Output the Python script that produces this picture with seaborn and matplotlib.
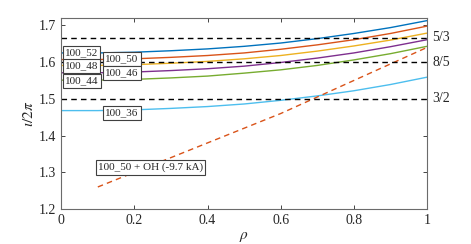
import numpy as np
import pandas as pd
import seaborn as sns
import matplotlib.pyplot as plt

rho = [0.0, 0.1, 0.2, 0.3, 0.4, 0.5, 0.6, 0.7, 0.8, 0.9, 1.0]
iota_52 = [1.625, 1.625, 1.627, 1.631, 1.636, 1.643, 1.652, 1.664, 1.678, 1.694, 1.713]
iota_50 = [1.607, 1.607, 1.609, 1.613, 1.618, 1.625, 1.635, 1.647, 1.661, 1.678, 1.698]
iota_48 = [1.591, 1.591, 1.593, 1.597, 1.602, 1.609, 1.618, 1.630, 1.644, 1.660, 1.679]
iota_46 = [1.571, 1.571, 1.573, 1.577, 1.582, 1.589, 1.599, 1.611, 1.625, 1.642, 1.661]
iota_44 = [1.551, 1.551, 1.553, 1.557, 1.562, 1.570, 1.579, 1.591, 1.606, 1.623, 1.643]
iota_36 = [1.468, 1.468, 1.470, 1.474, 1.479, 1.486, 1.496, 1.508, 1.522, 1.539, 1.559]

rho_oh = [0.1, 0.2, 0.3, 0.4, 0.5, 0.6, 0.7, 0.8, 0.9, 1.0]
iota_oh = [1.26, 1.30, 1.34, 1.38, 1.42, 1.46, 1.505, 1.55, 1.595, 1.64]

resonances = [5/3, 8/5, 3/2]
res_labels = ['5/3', '8/5', '3/2']

names = ['100_52', '100_50', '100_48', '100_46', '100_44', '100_36']
colors = ['#0072BD', '#D95319', '#EDB120', '#7E2F8E', '#77AC30', '#4DBEEE']
# label anchor (x, y) for each config
label_pos = [(0.01, 1.625), (0.12, 1.608), (0.01, 1.589),
             (0.12, 1.570), (0.01, 1.549), (0.12, 1.462)]

sns.set_style('ticks')
plt.rcParams['font.family'] = ['Liberation Serif', 'DejaVu Serif']
plt.rcParams['mathtext.fontset'] = 'stix'

fig = plt.figure(figsize=(4.71, 2.44), dpi=100)
ax = fig.add_axes([0.13, 0.1434, 0.7766, 0.7826])

series = [iota_52, iota_50, iota_48, iota_46, iota_44, iota_36]
for name, vals, c in zip(names, series, colors):
    sns.lineplot(x=rho, y=vals, color=c, lw=1.0, ax=ax)
sns.lineplot(x=rho_oh, y=iota_oh, color='#D95319', lw=1.0, ax=ax,
             linestyle=(0, (4, 3)))

for r, lab in zip(resonances, res_labels):
    ax.axhline(r, color='black', lw=1.0, ls=(0, (4, 3)))
    ax.text(1.015, r, lab, va='center', ha='left', fontsize=10,
            transform=ax.get_yaxis_transform())

box = dict(boxstyle='square,pad=0.2', fc='white', ec='#404040', lw=0.8)
for name, (x, y) in zip(names, label_pos):
    ax.text(x, y, name, fontsize=8, va='center', ha='left', bbox=box)
ax.text(0.1, 1.313, '100_50 + OH (-9.7 kA)', fontsize=8, va='center',
        ha='left', bbox=dict(boxstyle='square,pad=0.2', fc='white',
                             ec='#404040', lw=0.8))

ax.set_xlim(0, 1)
ax.set_ylim(1.2, 1.72)
ax.set_xticks([0, 0.2, 0.4, 0.6, 0.8, 1])
ax.set_xticklabels(['0', '0.2', '0.4', '0.6', '0.8', '1'])
ax.set_yticks([1.2, 1.3, 1.4, 1.5, 1.6, 1.7])
ax.tick_params(direction='in', length=3, width=0.6, labelsize=10,
               colors='#262626', top=True, right=True, labelcolor='#262626')
for s in ax.spines.values():
    s.set_visible(True)
    s.set_color('#6b6b6b')
    s.set_linewidth(0.8)
ax.set_xlabel(r'$\rho$', fontsize=11, labelpad=2)
ax.set_ylabel(r'$\iota/2\pi$', fontsize=11, labelpad=2)

fig.savefig('out.png', dpi=100)
